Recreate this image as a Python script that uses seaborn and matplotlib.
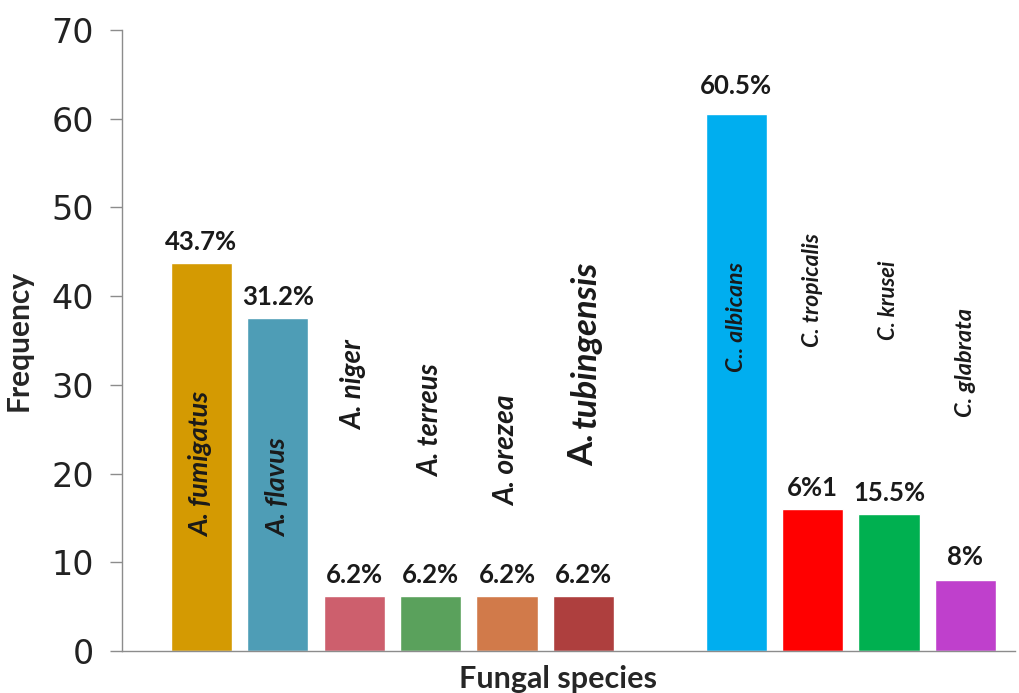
import pandas as pd
import seaborn as sns
import matplotlib.pyplot as plt

# species in plotting order, the blank slot separates Aspergillus from Candida
species = ['A. fumigatus', 'A. flavus', 'A. niger', 'A. terreus', 'A. orezea',
           'A. tubingensis', 'C.. albicans', 'C. tropicalis', 'C. krusei', 'C. glabrata']
frequency = [43.7, 37.5, 6.2, 6.2, 6.2, 6.2, 60.5, 16.0, 15.5, 8.0]
pct_labels = ['43.7%', '31.2%', '6.2%', '6.2%', '6.2%', '6.2%', '60.5%', '6%1', '15.5%', '8%']
colors = ['#D49A02', '#4E9DB6', '#CD5F6D', '#5AA15C', '#D17A4A', '#AE3F3E',
          '#00AEEF', '#FF0000', '#00B050', '#BF40CC']
order = species[:6] + [' '] + species[6:]

# layout of the rotated species names: lower end (data y) and font size
name_base = [12.9, 12.9, 24.9, 19.6, 16.3, 20.8, 31.4, 34.3, 35.1, 26.4]
name_size = [19.5, 19.5, 20, 19.8, 20.3, 25, 16.6, 16.5, 15.8, 16.9]
pct_gap = [1.0, 1.0, 1.0, 1.0, 1.0, 1.0, 1.8, 1.0, 1.0, 1.2]

df = pd.DataFrame({'species': species, 'frequency': frequency})

sns.set_style('white')
plt.rcParams['font.family'] = ['Lato', 'DejaVu Sans']

fig = plt.figure(figsize=(10.2, 6.93), dpi=100)
ax = fig.add_axes([0.1196, 0.0606, 0.8755, 0.896])

sns.barplot(data=df, x='species', y='frequency', hue='species', order=order,
            hue_order=species, palette=colors, width=0.8, dodge=False,
            legend=False, saturation=1, ax=ax)

pos = {s: order.index(s) for s in species}
for s, v, lab, yb, fs, g in zip(species, frequency, pct_labels, name_base,
                                name_size, pct_gap):
    x = pos[s]
    ax.text(x, v + g, lab, ha='center', va='bottom', fontsize=18.5,
            fontweight='bold', color='#1a1a1a')
    if s == 'A. tubingensis':
        ax.text(x, yb, 'A.', rotation=90, ha='center', va='bottom',
                fontsize=25, fontweight='bold', color='#1a1a1a')
        ax.text(x + 0.03, yb + 4.3, 'tubingensis', rotation=90, ha='center',
                va='bottom', fontsize=fs, fontweight='bold', style='italic',
                color='#1a1a1a')
    else:
        ax.text(x, yb, s, rotation=90, ha='center', va='bottom', fontsize=fs,
                fontweight='bold', style='italic', color='#1a1a1a')

ax.set_ylim(0, 70)
ax.set_xlim(-1.04, 10.65)
ax.set_yticks(range(0, 71, 10))
ax.set_yticklabels([str(t) for t in range(0, 71, 10)], fontsize=24,
                   family='DejaVu Sans', color='#222222')
ax.set_xticks([])
ax.tick_params(axis='y', length=9, width=1, color='#8c8c8c', pad=11, left=True)
ax.set_xlabel('Fungal species', fontsize=22, fontweight='bold')
ax.set_ylabel('Frequency', fontsize=21.5, fontweight='bold')
ax.xaxis.set_label_coords(0.488, -0.022)
ax.yaxis.set_label_coords(-0.1, 0.5)
for side in ['top', 'right']:
    ax.spines[side].set_visible(False)
for side in ['left', 'bottom']:
    ax.spines[side].set_color('#8c8c8c')
    ax.spines[side].set_linewidth(1)

fig.savefig('out.png', dpi=100)
